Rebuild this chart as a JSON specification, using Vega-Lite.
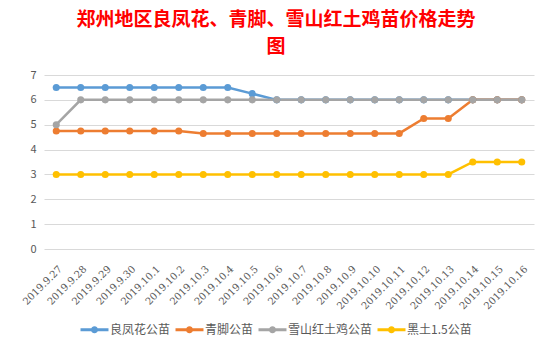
{
  "$schema": "https://vega.github.io/schema/vega-lite/v6.json",
  "width": 490,
  "height": 174,
  "autosize": "none",
  "padding": {"left": 44, "top": 75, "right": 18, "bottom": 102},
  "background": "white",
  "title": {
    "text": ["郑州地区良凤花、青脚、雪山红土鸡苗价格走势", "图"],
    "font": "Noto Sans CJK SC",
    "fontSize": 19,
    "fontWeight": "bold",
    "color": "#FF0000",
    "anchor": "middle",
    "dx": -13,
    "offset": 12,
    "lineHeight": 27
  },
  "data": {
    "values": [
      {"date": "2019.9.27", "s": "良凤花公苗", "v": 6.5},
      {"date": "2019.9.28", "s": "良凤花公苗", "v": 6.5},
      {"date": "2019.9.29", "s": "良凤花公苗", "v": 6.5},
      {"date": "2019.9.30", "s": "良凤花公苗", "v": 6.5},
      {"date": "2019.10.1", "s": "良凤花公苗", "v": 6.5},
      {"date": "2019.10.2", "s": "良凤花公苗", "v": 6.5},
      {"date": "2019.10.3", "s": "良凤花公苗", "v": 6.5},
      {"date": "2019.10.4", "s": "良凤花公苗", "v": 6.5},
      {"date": "2019.10.5", "s": "良凤花公苗", "v": 6.25},
      {"date": "2019.10.6", "s": "良凤花公苗", "v": 6},
      {"date": "2019.10.7", "s": "良凤花公苗", "v": 6},
      {"date": "2019.10.8", "s": "良凤花公苗", "v": 6},
      {"date": "2019.10.9", "s": "良凤花公苗", "v": 6},
      {"date": "2019.10.10", "s": "良凤花公苗", "v": 6},
      {"date": "2019.10.11", "s": "良凤花公苗", "v": 6},
      {"date": "2019.10.12", "s": "良凤花公苗", "v": 6},
      {"date": "2019.10.13", "s": "良凤花公苗", "v": 6},
      {"date": "2019.10.14", "s": "良凤花公苗", "v": 6},
      {"date": "2019.10.15", "s": "良凤花公苗", "v": 6},
      {"date": "2019.10.16", "s": "良凤花公苗", "v": 6},
      {"date": "2019.9.27", "s": "青脚公苗", "v": 4.75},
      {"date": "2019.9.28", "s": "青脚公苗", "v": 4.75},
      {"date": "2019.9.29", "s": "青脚公苗", "v": 4.75},
      {"date": "2019.9.30", "s": "青脚公苗", "v": 4.75},
      {"date": "2019.10.1", "s": "青脚公苗", "v": 4.75},
      {"date": "2019.10.2", "s": "青脚公苗", "v": 4.75},
      {"date": "2019.10.3", "s": "青脚公苗", "v": 4.65},
      {"date": "2019.10.4", "s": "青脚公苗", "v": 4.65},
      {"date": "2019.10.5", "s": "青脚公苗", "v": 4.65},
      {"date": "2019.10.6", "s": "青脚公苗", "v": 4.65},
      {"date": "2019.10.7", "s": "青脚公苗", "v": 4.65},
      {"date": "2019.10.8", "s": "青脚公苗", "v": 4.65},
      {"date": "2019.10.9", "s": "青脚公苗", "v": 4.65},
      {"date": "2019.10.10", "s": "青脚公苗", "v": 4.65},
      {"date": "2019.10.11", "s": "青脚公苗", "v": 4.65},
      {"date": "2019.10.12", "s": "青脚公苗", "v": 5.25},
      {"date": "2019.10.13", "s": "青脚公苗", "v": 5.25},
      {"date": "2019.10.14", "s": "青脚公苗", "v": 6},
      {"date": "2019.10.15", "s": "青脚公苗", "v": 6},
      {"date": "2019.10.16", "s": "青脚公苗", "v": 6},
      {"date": "2019.9.27", "s": "雪山红土鸡公苗", "v": 5},
      {"date": "2019.9.28", "s": "雪山红土鸡公苗", "v": 6},
      {"date": "2019.9.29", "s": "雪山红土鸡公苗", "v": 6},
      {"date": "2019.9.30", "s": "雪山红土鸡公苗", "v": 6},
      {"date": "2019.10.1", "s": "雪山红土鸡公苗", "v": 6},
      {"date": "2019.10.2", "s": "雪山红土鸡公苗", "v": 6},
      {"date": "2019.10.3", "s": "雪山红土鸡公苗", "v": 6},
      {"date": "2019.10.4", "s": "雪山红土鸡公苗", "v": 6},
      {"date": "2019.10.5", "s": "雪山红土鸡公苗", "v": 6},
      {"date": "2019.10.6", "s": "雪山红土鸡公苗", "v": 6},
      {"date": "2019.10.7", "s": "雪山红土鸡公苗", "v": 6},
      {"date": "2019.10.8", "s": "雪山红土鸡公苗", "v": 6},
      {"date": "2019.10.9", "s": "雪山红土鸡公苗", "v": 6},
      {"date": "2019.10.10", "s": "雪山红土鸡公苗", "v": 6},
      {"date": "2019.10.11", "s": "雪山红土鸡公苗", "v": 6},
      {"date": "2019.10.12", "s": "雪山红土鸡公苗", "v": 6},
      {"date": "2019.10.13", "s": "雪山红土鸡公苗", "v": 6},
      {"date": "2019.10.14", "s": "雪山红土鸡公苗", "v": 6},
      {"date": "2019.10.15", "s": "雪山红土鸡公苗", "v": 6},
      {"date": "2019.10.16", "s": "雪山红土鸡公苗", "v": 6},
      {"date": "2019.9.27", "s": "黑土1.5公苗", "v": 3},
      {"date": "2019.9.28", "s": "黑土1.5公苗", "v": 3},
      {"date": "2019.9.29", "s": "黑土1.5公苗", "v": 3},
      {"date": "2019.9.30", "s": "黑土1.5公苗", "v": 3},
      {"date": "2019.10.1", "s": "黑土1.5公苗", "v": 3},
      {"date": "2019.10.2", "s": "黑土1.5公苗", "v": 3},
      {"date": "2019.10.3", "s": "黑土1.5公苗", "v": 3},
      {"date": "2019.10.4", "s": "黑土1.5公苗", "v": 3},
      {"date": "2019.10.5", "s": "黑土1.5公苗", "v": 3},
      {"date": "2019.10.6", "s": "黑土1.5公苗", "v": 3},
      {"date": "2019.10.7", "s": "黑土1.5公苗", "v": 3},
      {"date": "2019.10.8", "s": "黑土1.5公苗", "v": 3},
      {"date": "2019.10.9", "s": "黑土1.5公苗", "v": 3},
      {"date": "2019.10.10", "s": "黑土1.5公苗", "v": 3},
      {"date": "2019.10.11", "s": "黑土1.5公苗", "v": 3},
      {"date": "2019.10.12", "s": "黑土1.5公苗", "v": 3},
      {"date": "2019.10.13", "s": "黑土1.5公苗", "v": 3},
      {"date": "2019.10.14", "s": "黑土1.5公苗", "v": 3.5},
      {"date": "2019.10.15", "s": "黑土1.5公苗", "v": 3.5},
      {"date": "2019.10.16", "s": "黑土1.5公苗", "v": 3.5}
    ]
  },
  "mark": {"type": "line", "strokeWidth": 2.5, "point": {"size": 50, "filled": true, "opacity": 1}},
  "encoding": {
    "x": {
      "field": "date", "type": "ordinal", "sort": null,
      "scale": {"type": "point", "padding": 0.5},
      "axis": {
        "title": null, "labelAngle": -45, "labelAlign": "right", "labelBaseline": "middle",
        "labelFont": "DejaVu Serif", "labelFontSize": 10, "labelColor": "#595959",
        "domain": false, "ticks": false, "labelPadding": 18, "labelOffset": 4, "grid": false
      }
    },
    "y": {
      "field": "v", "type": "quantitative",
      "scale": {"domain": [0, 7], "nice": false},
      "axis": {
        "title": null, "values": [0, 1, 2, 3, 4, 5, 6, 7],
        "labelFont": "Noto Sans CJK SC", "labelFontSize": 11, "labelColor": "#595959",
        "domain": false, "ticks": false, "labelPadding": 8,
        "gridColor": "#D9D9D9", "gridWidth": 1
      }
    },
    "color": {
      "field": "s", "type": "nominal",
      "scale": {
        "domain": ["良凤花公苗", "青脚公苗", "雪山红土鸡公苗", "黑土1.5公苗"],
        "range": ["#5B9BD5", "#ED7D31", "#A5A5A5", "#FFC000"]
      },
      "legend": {
        "title": null, "orient": "none", "direction": "horizontal",
        "legendX": 41, "legendY": 245,
        "labelFont": "Noto Sans CJK SC", "labelFontSize": 12, "labelColor": "#595959",
        "symbolType": "M-1.5,-0.16H1.5V0.16H-1.5Z M0.38,0A0.38,0.38 0 1,1 -0.38,0A0.38,0.38 0 1,1 0.38,0Z",
        "symbolSize": 348, "symbolStrokeWidth": 0, "symbolOpacity": 1,
        "columnPadding": 4, "labelOffset": 6
      }
    }
  },
  "config": {"view": {"stroke": null}, "font": "Noto Sans CJK SC"}
}
